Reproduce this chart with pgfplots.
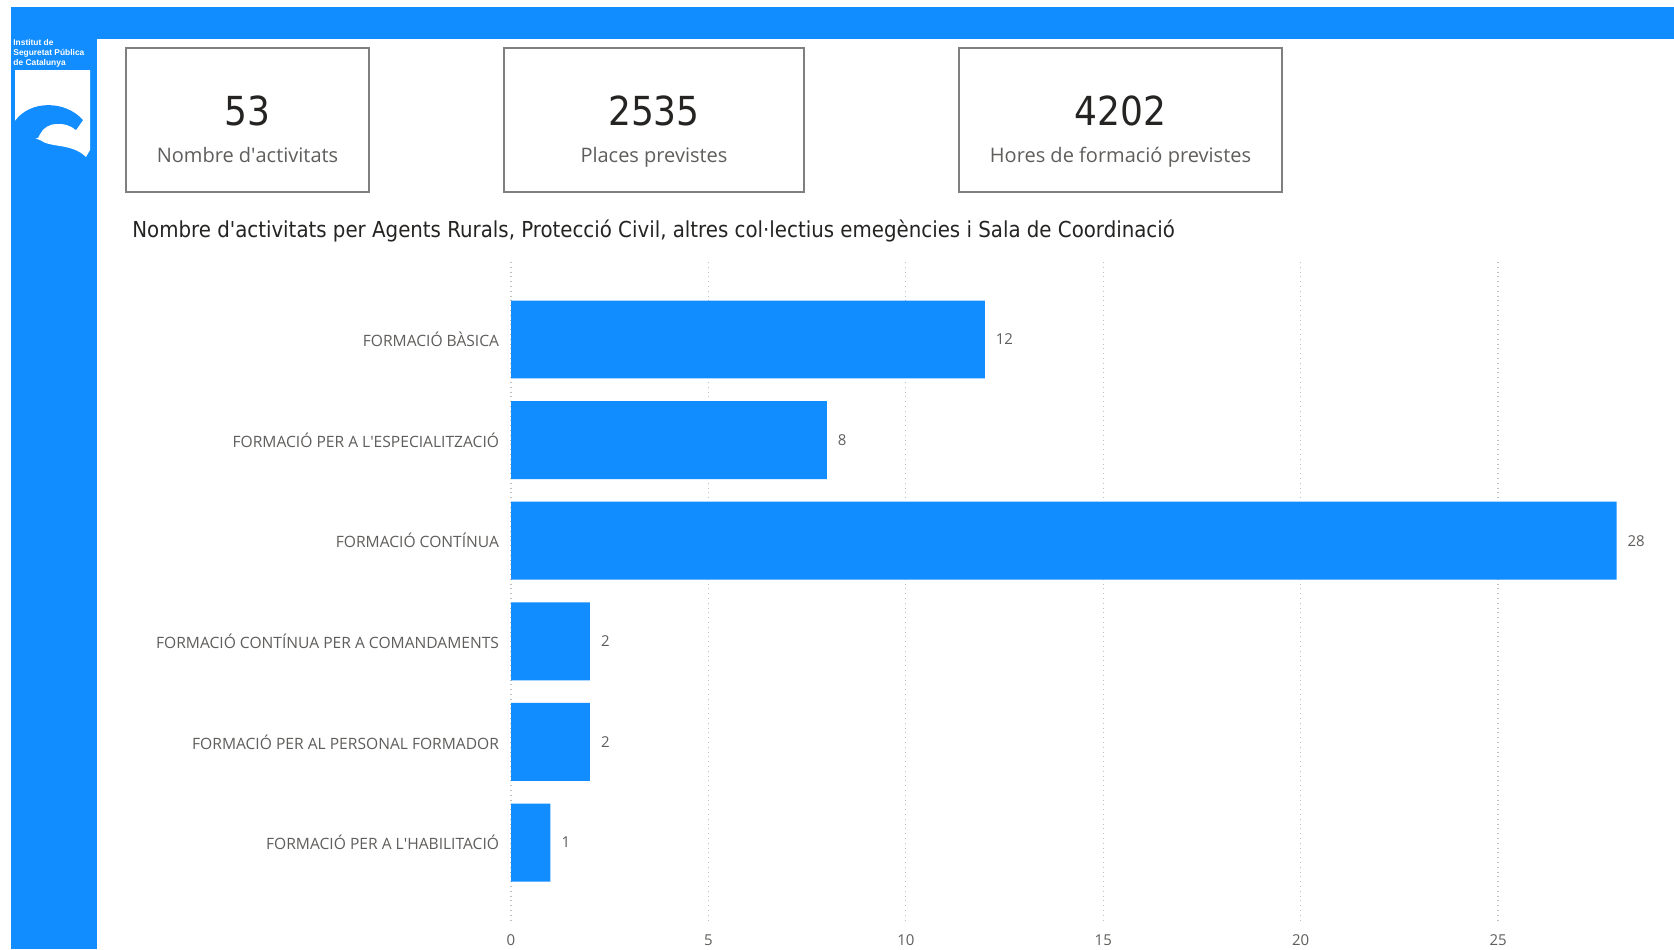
\documentclass[border=0pt]{standalone}
\usepackage{fontspec}
\setmainfont{Open Sans}
\newfontfamily\din{DejaVu Sans Condensed}
\newfontfamily\logofont{Liberation Sans}
\usepackage{pgfplots}
\pgfplotsset{compat=1.18}
\definecolor{pbiblue}{HTML}{118DFF}
\definecolor{lblgray}{HTML}{605E5C}
\definecolor{boxgray}{HTML}{7F7F7F}
\definecolor{titleblack}{HTML}{252423}
\begin{document}
\begin{tikzpicture}[x=0.5pt,y=-0.5pt]
\useasboundingbox (0,0) rectangle (1674,949);
\fill[white] (0,0) rectangle (1674,949);
% header bar and sidebar
\fill[pbiblue] (11,7) rectangle (1674,39);
\fill[pbiblue] (11,39) rectangle (97,949);
% logo
\node[anchor=north west, align=left, text=white, inner sep=0,
      font=\logofont\bfseries\fontsize{4.2}{4.8}\selectfont] at (13,39.5)
      {Institut de\\Seguretat Pública\\de Catalunya};
\fill[white] (15,70) -- (90,70) -- (90,150) -- (86,157)
   .. controls (72,143) and (50,148) .. (40,140) -- (15,132) -- cycle;
\fill[pbiblue] (15,121) .. controls (30,100) and (65,100) .. (83,120)
   -- (76,130) .. controls (66,121) and (46,121) .. (40,134)
   .. controls (40,140) and (30,140) .. (15,140) -- cycle;
% KPI cards
\draw[boxgray, line width=0.75pt] (126,48) rectangle (369,192);
\draw[boxgray, line width=0.75pt] (504,48) rectangle (804,192);
\draw[boxgray, line width=0.75pt] (959,48) rectangle (1282,192);
\node[anchor=base, font=\din\fontsize{20}{24}\selectfont, text=titleblack] at (247.5,125) {53};
\node[anchor=base, font=\din\fontsize{20}{24}\selectfont, text=titleblack] at (654,125) {2535};
\node[anchor=base, font=\din\fontsize{20}{24}\selectfont, text=titleblack] at (1120.5,125) {4202};
\node[anchor=base, font=\fontsize{10}{12}\selectfont, text=lblgray] at (247.5,162) {Nombre d\textquotesingle activitats};
\node[anchor=base, font=\fontsize{10}{12}\selectfont, text=lblgray] at (654,162) {Places previstes};
\node[anchor=base, font=\fontsize{10}{12}\selectfont, text=lblgray] at (1120.5,162) {Hores de formació previstes};
% chart title
\node[anchor=west, inner sep=0, font=\din\fontsize{11}{13}\selectfont, text=titleblack] at (132,230.5)
  {Nombre d'activitats per Agents Rurals, Protecció Civil, altres col·lectius emegències i Sala de Coordinació};
\begin{axis}[
  at={(255.5pt,-131pt)}, anchor=north west,
  scale only axis, width=572.5pt, height=329pt,
  xmin=0, xmax=29, ymin=-0.77, ymax=5.77,
  y dir=reverse,
  xbar, bar width=0.775,
  axis line style={draw=none},
  tick style={draw=none},
  xtick={0,5,...,25},
  ytick={0,...,5},
  yticklabels={FORMACIÓ BÀSICA, FORMACIÓ PER A L\textquotesingle ESPECIALITZACIÓ, FORMACIÓ CONTÍNUA, FORMACIÓ CONTÍNUA PER A COMANDAMENTS, FORMACIÓ PER AL PERSONAL FORMADOR, FORMACIÓ PER A L\textquotesingle HABILITACIÓ},
  yticklabel style={font=\fontsize{7.8}{9}\selectfont, text=lblgray, xshift=1.8pt},
  xticklabel style={font=\fontsize{7.5}{9}\selectfont, text=lblgray, yshift=-4pt},
  /pgf/number format/assume math mode=true,
  xmajorgrids,
  grid style={dotted, color=black!25, line width=0.6pt},
  nodes near coords,
  nodes near coords style={anchor=west, font=\fontsize{7.5}{9}\selectfont, text=lblgray, xshift=2pt},
  clip=false,
]
\addplot[fill=pbiblue, draw=none] coordinates {(12,0) (8,1) (28,2) (2,3) (2,4) (1,5)};
\end{axis}
\end{tikzpicture}
\end{document}
